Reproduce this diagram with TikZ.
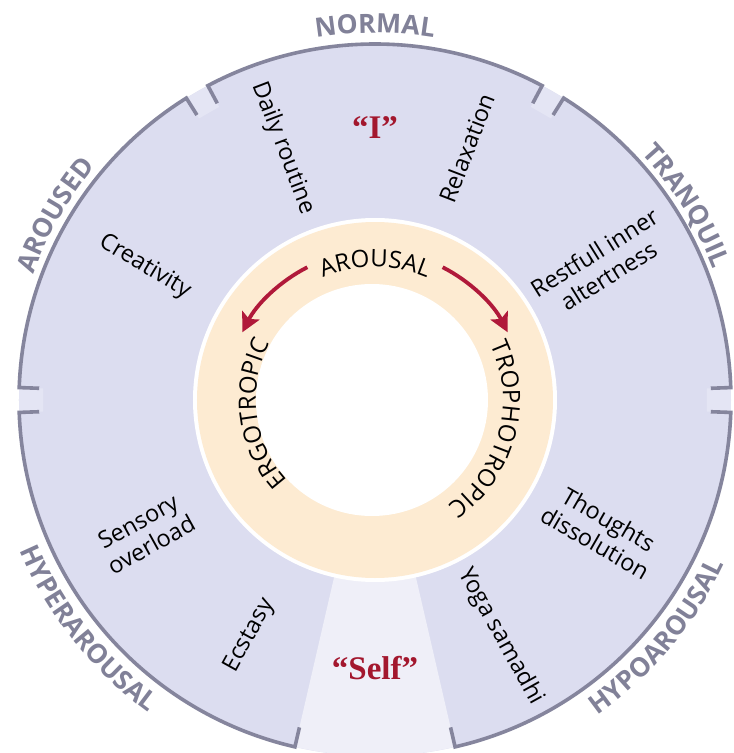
\documentclass[tikz,border=0pt]{standalone}
\usepackage{fontspec}
\setmainfont{Open Sans}
\newfontfamily\quotefont{Liberation Serif}
\usetikzlibrary{arrows.meta, decorations.text}
\definecolor{diskfill}{HTML}{DCDDF0}
\definecolor{selffill}{HTML}{EFEFF8}
\definecolor{gapfill}{HTML}{E4E5F4}
\definecolor{ringfill}{HTML}{FDEBD2}
\definecolor{rimline}{HTML}{85859D}
\definecolor{zonetext}{HTML}{818198}
\definecolor{flowred}{HTML}{B0193A}
\definecolor{quotered}{HTML}{A3172E}
\tikzset{
  state/.style   = {font=\fontsize{23.5}{27}\selectfont, align=center, inner sep=1pt},
  quote/.style   = {font=\quotefont\bfseries\fontsize{33}{36}\selectfont, text=quotered},
  rim/.style     = {line width=3.6pt, draw=rimline},
  flow/.style    = {-{Stealth[length=19pt, width=19pt, inset=4pt]}, line width=3.8pt, draw=flowred},
  zone/.style    = {decorate, decoration={text along path, text align=center, text color=zonetext,
                    text={|\bfseries\fontsize{26.5}{30}\selectfont|#1}}},
  ringlbl/.style = {decorate, decoration={text along path, text align=center,
                    text={|\fontsize{24}{26}\selectfont|#1}}},
}

\begin{document}
\begin{tikzpicture}
        \useasboundingbox (-375pt,-353pt) rectangle (359pt,400pt);
        \fill[white] (-375pt,-353pt) rectangle (359pt,400pt);
        % disk, gaps and the self sector
        \fill[diskfill] (0,0) circle[radius=356pt];
        \foreach \g in {0, 60, 120, 180}{
          \fill[gapfill] (\g-2:332pt) -- (\g-2:356pt) arc[start angle=\g-2, end angle=\g+2, radius=356pt] -- (\g+2:332pt) -- cycle;}
        \fill[selffill] (-103:180pt) -- (-103:356pt) arc[start angle=-103, end angle=-77, radius=356pt] -- (-77:180pt) -- cycle;
        % arousal ring
        \fill[white] (0,0) circle[radius=182pt];
        \fill[ringfill] (0,0) circle[radius=178pt];
        \fill[white] (-3pt,0) circle[radius=116pt];
        % rim arcs
        \foreach \a/\b in {62/118, 122/178, 182/257, 283/358, 2/58}{
          \draw[rim] (\a:336pt) -- (\a:356pt) arc[start angle=\a, end angle=\b, radius=356pt] -- (\b:336pt);}
        \path[zone=NORMAL]       (120:367pt) arc[start angle=120, end angle=60, radius=367pt];
        \path[zone=AROUSED]      (180:364pt) arc[start angle=180, end angle=120, radius=364pt];
        \path[zone=TRANQUIL]     (62:363pt) arc[start angle=62, end angle=2, radius=363pt];
        \path[zone=HYPERAROUSAL] (180:386pt) arc[start angle=180, end angle=257, radius=386pt];
        \path[zone=HYPOAROUSAL]  (-78:386pt) arc[start angle=-78, end angle=-2, radius=386pt];
        % states
        \node[state, rotate=-69] (daily)    at (110:268pt) {Daily routine};
        \node[state, rotate=69]  (relax)    at (70:268pt)  {Relaxation};
        \node[state, rotate=-31] (creative) at (150:266pt) {Creativity};
        \node[state, rotate=32]  (restful)  at (31:264pt)  {Restfull inner\\altertness};
        \node[state, rotate=29]  (sensory)  at (210:266pt) {Sensory\\overload};
        \node[state, rotate=-30] (thought)  at (-30:262pt) {Thoughts\\dissolution};
        \node[state, rotate=61]  (ecstasy)  at (242:267pt) {Ecstasy};
        \node[state, rotate=-61] (yoga)     at (-62:268pt) {Yoga samadhi};
        \node[quote] (ego)  at (0,272pt)  {“I”};
        \node[quote] (self) at (0,-268pt) {“Self”};
        % ring labels and arrows
        \path[ringlbl=AROUSAL]      (130:133pt) arc[start angle=130, end angle=50, radius=133pt];
        \path[ringlbl=ERGOTROPIC]   (247:119pt) arc[start angle=247, end angle=127, radius=119pt];
        \path[ringlbl=TROPHOTROPIC] (47:128pt) arc[start angle=47, end angle=-77, radius=128pt];
        \coordinate (ergoFrom) at (117:149pt);
        \coordinate (trophoFrom) at (63:149pt);
        \draw[flow] (ergoFrom) arc[start angle=117, end angle=153, radius=149pt];
        \draw[flow] (trophoFrom) arc[start angle=63, end angle=27, radius=149pt];
    \end{tikzpicture}
\end{document}
